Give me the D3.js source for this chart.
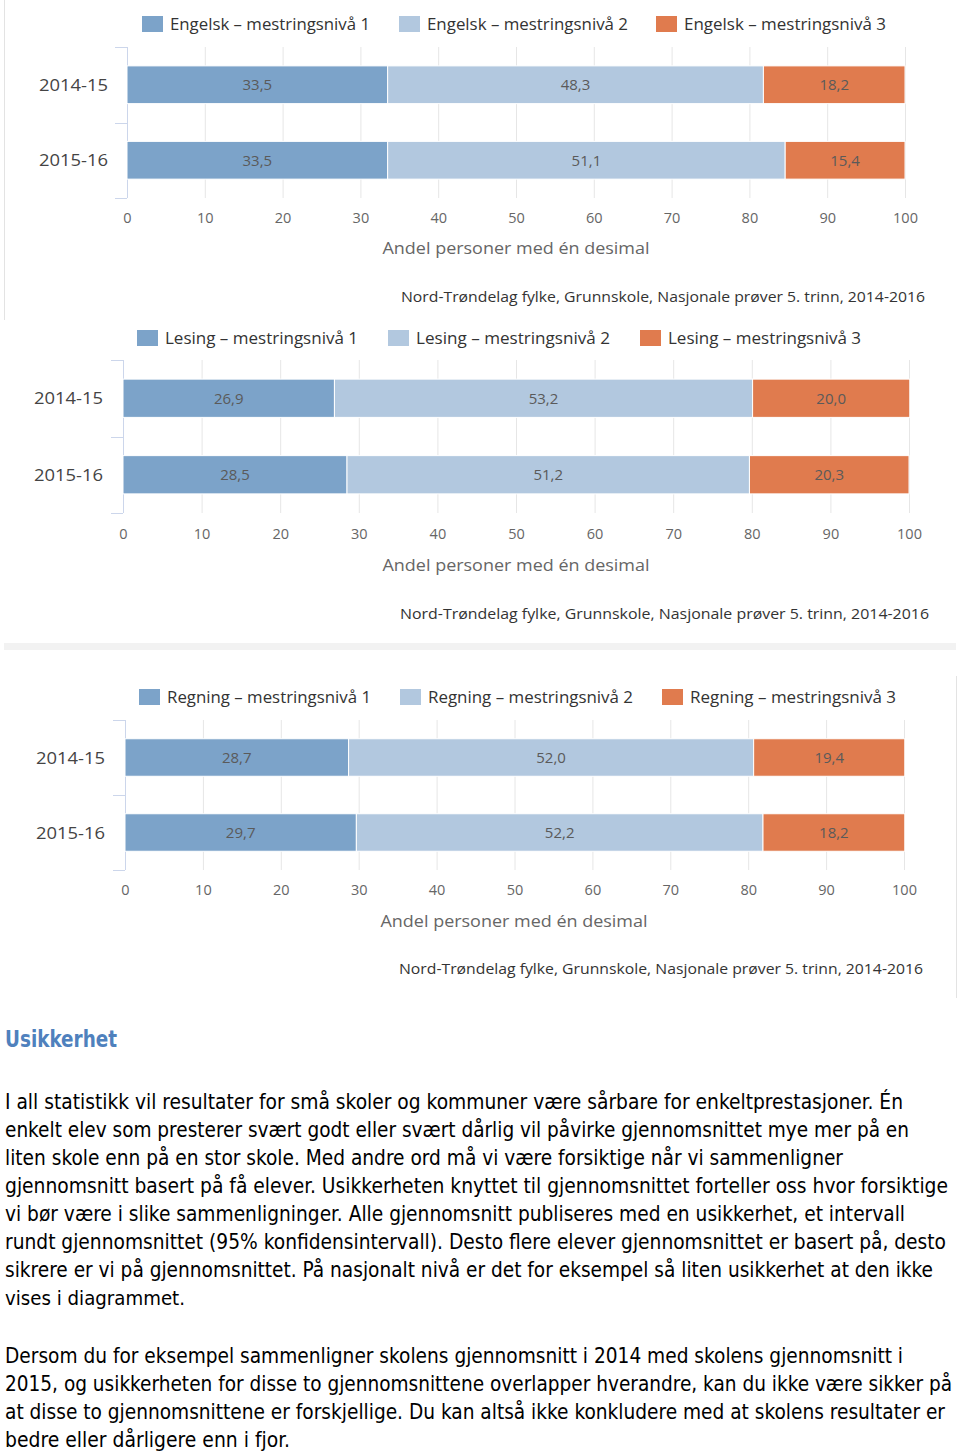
<!DOCTYPE html>
<html><head><meta charset="utf-8">
<script src="https://cdn.jsdelivr.net/npm/d3@7"></script>
<style>
html,body{margin:0;padding:0;background:#fff;}
svg{display:block;}
</style></head>
<body>
<svg id="page" width="960" height="1455"></svg>
<script>
// ---------------- DATA ----------------
const categories = ["2014-15", "2015-16"];
const subjects = ["Engelsk", "Lesing", "Regning"];
const levels = ["mestringsnivå 1", "mestringsnivå 2", "mestringsnivå 3"];
const engelskValues = [[33.5, 48.3, 18.2], [33.5, 51.1, 15.4]];
const lesingValues  = [[26.9, 53.2, 20.0], [28.5, 51.2, 20.3]];
const regningValues = [[28.7, 52.0, 19.4], [29.7, 52.2, 18.2]];
const xTicks = [0, 10, 20, 30, 40, 50, 60, 70, 80, 90, 100];
const axisTitle = "Andel personer med én desimal";
const sourceText = "Nord-Trøndelag fylke, Grunnskole, Nasjonale prøver 5. trinn, 2014-2016";
const heading = "Usikkerhet";
const paragraph1 = [
  "I all statistikk vil resultater for små skoler og kommuner være sårbare for enkeltprestasjoner. Én",
  "enkelt elev som presterer svært godt eller svært dårlig vil påvirke gjennomsnittet mye mer på en",
  "liten skole enn på en stor skole. Med andre ord må vi være forsiktige når vi sammenligner",
  "gjennomsnitt basert på få elever. Usikkerheten knyttet til gjennomsnittet forteller oss hvor forsiktige",
  "vi bør være i slike sammenligninger. Alle gjennomsnitt publiseres med en usikkerhet, et intervall",
  "rundt gjennomsnittet (95% konfidensintervall). Desto flere elever gjennomsnittet er basert på, desto",
  "sikrere er vi på gjennomsnittet. På nasjonalt nivå er det for eksempel så liten usikkerhet at den ikke",
  "vises i diagrammet."
];
const paragraph2 = [
  "Dersom du for eksempel sammenligner skolens gjennomsnitt i 2014 med skolens gjennomsnitt i",
  "2015, og usikkerheten for disse to gjennomsnittene overlapper hverandre, kan du ikke være sikker på",
  "at disse to gjennomsnittene er forskjellige. Du kan altså ikke konkludere med at skolens resultater er",
  "bedre eller dårligere enn i fjor."
];

// ---------------- STYLE / LAYOUT ----------------
const colors = ["#7ca3c9", "#b2c8df", "#e07b4e"];
const chartFont = "'Open Sans', 'Noto Sans', sans-serif";
const valueSets = [engelskValues, lesingValues, regningValues];
const layouts = [
  {x0:127, x1:905, top:47,  bottom:198, legendY:24,  sw:[142,399,656], legW:[200,201,202], labelRight:108, tickY:218, titleX:516, titleY:248, srcY:297, srcL:401, srcR:925},
  {x0:123, x1:909, top:360, bottom:513, legendY:338, sw:[137,388,640], legW:[193,194,193], labelRight:103, tickY:534, titleX:516, titleY:565, srcY:614, srcL:400, srcR:929},
  {x0:125, x1:904, top:720, bottom:870, legendY:697, sw:[139,400,662], legW:[204,205,206], labelRight:105, tickY:890, titleX:514, titleY:921, srcY:969, srcL:399, srcR:923}
];

const svg = d3.select("#page");

// frame decorations
svg.append("line").attr("x1",4.5).attr("x2",4.5).attr("y1",0).attr("y2",320)
  .attr("stroke","#e3e3e3").attr("stroke-width",1);
svg.append("rect").attr("x",4).attr("y",643).attr("width",952).attr("height",7).attr("fill","#f2f2f2");
svg.append("line").attr("x1",956.5).attr("x2",956.5).attr("y1",676).attr("y2",998)
  .attr("stroke","#e3e3e3").attr("stroke-width",1);

valueSets.forEach((vals, ci) => {
  const L = layouts[ci];
  const g = svg.append("g").style("font-family", chartFont);
  const x = d3.scaleLinear().domain([0, 100]).range([L.x0, L.x1]);
  const y = d3.scaleBand().domain(categories).range([L.top, L.bottom]).paddingInner(0.5).paddingOuter(0.25);
  const yb = d3.scaleBand().domain(categories).range([L.top, L.bottom]);

  // gridlines via axis
  const grid = g.append("g").attr("transform", `translate(0,${L.bottom})`)
    .call(d3.axisBottom(x).tickValues(xTicks).tickSize(-(L.bottom - L.top)).tickFormat(""));
  grid.select(".domain").remove();
  grid.selectAll("line").attr("stroke", "#e6e6e6");

  // tick labels
  const ax = g.append("g").attr("transform", `translate(0,${L.tickY})`)
    .call(d3.axisBottom(x).tickValues(xTicks).tickSize(0).tickPadding(0));
  ax.select(".domain").remove();
  ax.selectAll("text").attr("fill", "#666").style("font-size", "14.5px").style("font-family", chartFont)
    .attr("y", 0).attr("dy", "0.36em");

  // y axis line + ticks at band boundaries
  g.append("line").attr("x1", L.x0 + 0.5).attr("x2", L.x0 + 0.5).attr("y1", L.top).attr("y2", L.bottom)
    .attr("stroke", "#ccd6eb");
  const bounds = [L.top, ...categories.map(c => yb(c) + yb.bandwidth())];
  g.selectAll(".ytick").data(bounds).join("line")
    .attr("x1", L.x0 - 12).attr("x2", L.x0).attr("y1", d => Math.round(d) + 0.5).attr("y2", d => Math.round(d) + 0.5)
    .attr("stroke", "#ccd6eb");

  // category labels
  g.selectAll(".ylab").data(categories).join("text")
    .attr("x", L.labelRight).attr("y", d => y(d) + y.bandwidth() / 2).attr("dy", "0.36em")
    .attr("text-anchor", "end").attr("fill", "#444").style("font-size", "17px")
    .attr("textLength", 69).attr("lengthAdjust", "spacingAndGlyphs")
    .text(d => d);

  // stacked bars
  categories.forEach((cat, ri) => {
    let acc = 0;
    vals[ri].forEach((v, li) => {
      const start = acc; acc += v;
      g.append("rect").attr("x", x(start)).attr("y", y(cat))
        .attr("width", x(acc) - x(start)).attr("height", y.bandwidth())
        .attr("fill", colors[li]).attr("stroke", "#fff").attr("stroke-width", 1);
      g.append("text").attr("x", (x(start) + x(acc)) / 2).attr("y", y(cat) + y.bandwidth() / 2)
        .attr("dy", "0.36em").attr("text-anchor", "middle").attr("fill", "#5a5a5a")
        .style("font-size", "15px").text(d3.format(".1f")(v).replace(".", ","));
    });
  });

  // legend
  levels.forEach((lv, li) => {
    g.append("rect").attr("x", L.sw[li]).attr("y", L.legendY - 8).attr("width", 21).attr("height", 16)
      .attr("fill", colors[li]);
    g.append("text").attr("x", L.sw[li] + 28).attr("y", L.legendY).attr("dy", "0.36em")
      .attr("fill", "#333").style("font-size", "16px")
      .attr("textLength", L.legW[li]).attr("lengthAdjust", "spacingAndGlyphs")
      .text(`${subjects[ci]} – ${lv}`);
  });

  // axis title
  g.append("text").attr("x", L.titleX).attr("y", L.titleY).attr("dy", "0.36em").attr("text-anchor", "middle")
    .attr("fill", "#666").style("font-size", "17px")
    .attr("textLength", 267).attr("lengthAdjust", "spacingAndGlyphs").text(axisTitle);

  // source
  g.append("text").attr("x", L.srcL).attr("y", L.srcY).attr("dy", "0.36em")
    .attr("fill", "#333").style("font-size", "14.5px")
    .attr("textLength", L.srcR - L.srcL).attr("lengthAdjust", "spacingAndGlyphs").text(sourceText);
});

// ---------------- TEXT SECTION ----------------
const bodyFont = "'Liberation Sans Narrow', 'DejaVu Sans Condensed', 'Liberation Sans', sans-serif";
svg.append("text").attr("x", 5).attr("y", 1047).attr("fill", "#4f81bd")
  .style("font-family", bodyFont).style("font-weight", "bold").style("font-size", "23px")
  .attr("textLength", 112).attr("lengthAdjust", "spacingAndGlyphs").text(heading);

const p1Ends = [903, 909, 843, 948, 905, 946, 933, 185];
const p2Ends = [903, 952, 945, 290];
function drawPara(lines, ends, y0) {
  lines.forEach((ln, i) => {
    const target = ends[i] - 5;
    const t = svg.append("text").attr("x", 5).attr("y", y0 + i * 28).attr("fill", "#000")
      .style("font-family", bodyFont).style("font-size", "21px").text(ln);
    const natural = t.node().getComputedTextLength();
    if (natural > target) {
      t.style("font-size", Math.max(19, 21 * target / natural).toFixed(2) + "px");
    }
    t.attr("textLength", target).attr("lengthAdjust", "spacingAndGlyphs");
  });
}
drawPara(paragraph1, p1Ends, 1109);
drawPara(paragraph2, p2Ends, 1363);
</script>
</body></html>
